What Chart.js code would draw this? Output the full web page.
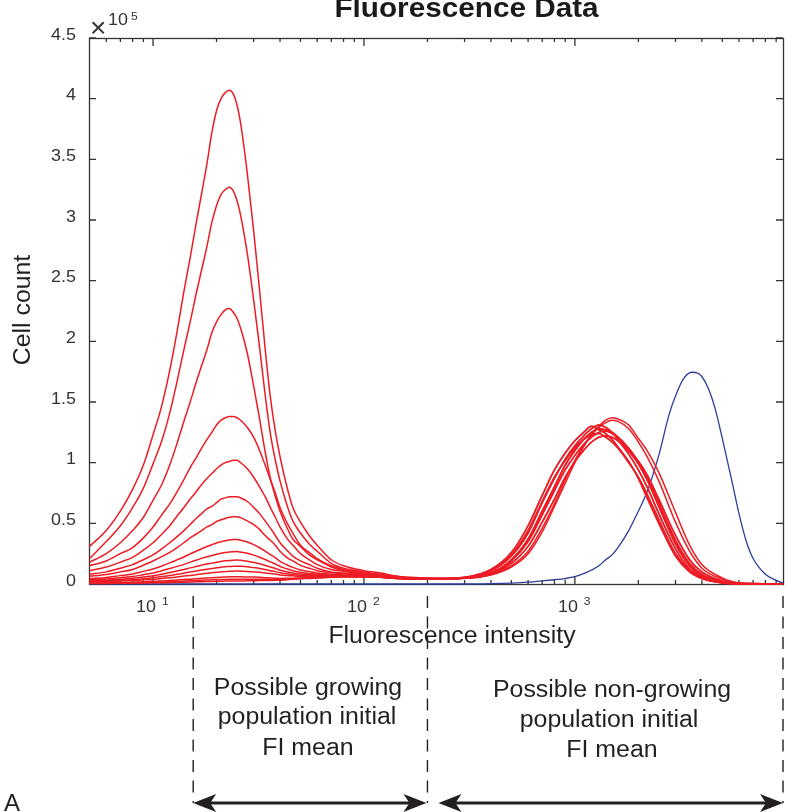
<!DOCTYPE html>
<html>
<head>
<meta charset="utf-8">
<title>Fluorescence Data</title>
<script src="https://cdn.jsdelivr.net/npm/chart.js@4.4.1/dist/chart.umd.min.js"></script>
<style>
  html, body { margin: 0; padding: 0; background: #fff; }
  #wrap { width: 792px; height: 812px; }
</style>
</head>
<body>
<div id="wrap"><canvas id="chart" width="792" height="812"></canvas></div>
<script>
// intensity bins: low part (growing peak) and high part (non-growing peak)
const fiLow = [5, 6, 7, 8, 9, 10, 11, 12, 13, 14, 15, 16, 17, 18, 19, 20, 21, 22, 23, 24,
  25, 26, 28, 30, 32, 34, 36, 38, 40, 43, 46, 50, 55, 60, 70, 80, 100, 120, 150, 200];
const fiHigh = [300, 400, 500, 600, 700, 800, 900, 1000, 1100, 1200, 1300, 1400, 1500, 1600,
  1800, 2000, 2200, 2500, 3000, 3500, 4000, 5000, 6000, 10000];

// cell counts (x10^5) of each red curve over fiLow
const growing01 = [0.31,0.44,0.60,0.78,0.98,1.23,1.47,1.76,2.08,2.41,2.69,2.97,3.22,3.46,3.72,3.90,4.00,4.05,4.07,4.04,3.95,3.80,3.38,2.91,2.42,1.94,1.54,1.26,1.05,0.81,0.63,0.51,0.40,0.32,0.20,0.15,0.11,0.09,0.06,0.05];
const growing02 = [0.21,0.35,0.48,0.63,0.79,0.99,1.18,1.41,1.67,1.93,2.16,2.39,2.59,2.78,2.98,3.12,3.21,3.25,3.27,3.24,3.16,3.04,2.72,2.34,1.95,1.56,1.24,1.02,0.85,0.66,0.52,0.42,0.33,0.27,0.17,0.13,0.10,0.08,0.06,0.05];
const growing03 = [0.18,0.25,0.34,0.44,0.55,0.69,0.82,0.98,1.16,1.34,1.50,1.66,1.80,1.93,2.07,2.16,2.22,2.26,2.27,2.24,2.19,2.11,1.90,1.63,1.36,1.09,0.87,0.72,0.60,0.47,0.37,0.31,0.24,0.20,0.14,0.11,0.09,0.07,0.05,0.04];
const growing04 = [0.15,0.19,0.25,0.30,0.38,0.47,0.57,0.66,0.76,0.86,0.96,1.04,1.12,1.19,1.25,1.31,1.35,1.37,1.38,1.38,1.37,1.35,1.29,1.21,1.10,0.98,0.86,0.75,0.63,0.51,0.42,0.32,0.26,0.21,0.15,0.12,0.09,0.07,0.05,0.04];
const growing05 = [0.11,0.14,0.18,0.22,0.28,0.34,0.41,0.48,0.56,0.63,0.70,0.76,0.82,0.87,0.91,0.95,0.98,1.00,1.01,1.02,1.02,1.00,0.95,0.88,0.80,0.72,0.63,0.55,0.47,0.38,0.32,0.25,0.20,0.16,0.12,0.105,0.08,0.065,0.05,0.042];
const growing06 = [0.08,0.10,0.13,0.16,0.20,0.24,0.29,0.34,0.39,0.44,0.49,0.54,0.58,0.62,0.64,0.67,0.70,0.71,0.72,0.72,0.72,0.71,0.68,0.63,0.58,0.52,0.46,0.40,0.34,0.28,0.23,0.19,0.16,0.13,0.10,0.09,0.074,0.062,0.049,0.04];
const growing07 = [0.063,0.079,0.10,0.12,0.155,0.19,0.225,0.26,0.30,0.34,0.38,0.41,0.44,0.47,0.49,0.515,0.53,0.54,0.55,0.555,0.555,0.547,0.52,0.49,0.45,0.40,0.36,0.32,0.27,0.22,0.19,0.154,0.13,0.11,0.092,0.084,0.071,0.06,0.048,0.041];
const growing08 = [0.044,0.054,0.069,0.082,0.104,0.124,0.149,0.174,0.199,0.223,0.248,0.27,0.291,0.309,0.324,0.338,0.349,0.357,0.363,0.366,0.367,0.361,0.346,0.324,0.299,0.271,0.242,0.217,0.187,0.159,0.137,0.116,0.102,0.091,0.08,0.075,0.067,0.058,0.047,0.041];
const growing09 = [0.034,0.041,0.052,0.061,0.077,0.091,0.109,0.127,0.145,0.162,0.18,0.196,0.211,0.224,0.235,0.245,0.253,0.259,0.264,0.266,0.267,0.263,0.253,0.238,0.221,0.202,0.182,0.165,0.144,0.125,0.11,0.096,0.087,0.08,0.074,0.071,0.065,0.057,0.046,0.04];
const growing10 = [0.027,0.032,0.04,0.047,0.058,0.068,0.081,0.094,0.107,0.12,0.133,0.144,0.155,0.165,0.172,0.18,0.186,0.191,0.194,0.196,0.197,0.195,0.188,0.178,0.167,0.153,0.14,0.128,0.114,0.101,0.091,0.082,0.077,0.073,0.069,0.068,0.063,0.057,0.046,0.04];
const growing11 = [0.022,0.026,0.031,0.036,0.044,0.052,0.061,0.07,0.08,0.089,0.099,0.107,0.115,0.122,0.128,0.134,0.138,0.142,0.144,0.146,0.147,0.146,0.142,0.135,0.128,0.119,0.11,0.102,0.093,0.084,0.077,0.072,0.069,0.067,0.066,0.065,0.062,0.056,0.046,0.04];
const growing12 = [0.018,0.02,0.025,0.028,0.034,0.038,0.045,0.052,0.058,0.065,0.071,0.077,0.083,0.088,0.092,0.096,0.1,0.102,0.105,0.106,0.107,0.106,0.104,0.101,0.096,0.091,0.086,0.082,0.075,0.07,0.067,0.064,0.063,0.063,0.063,0.064,0.062,0.056,0.045,0.04];
const growing13 = [0.008,0.01,0.012,0.015,0.018,0.021,0.025,0.029,0.033,0.037,0.04,0.044,0.047,0.05,0.052,0.054,0.056,0.058,0.059,0.06,0.06,0.059,0.058,0.057,0.055,0.052,0.05,0.048,0.046,0.047,0.048,0.05,0.052,0.054,0.058,0.06,0.06,0.055,0.045,0.04];
const growing14 = [0.006,0.007,0.009,0.01,0.012,0.015,0.017,0.019,0.022,0.024,0.026,0.029,0.031,0.033,0.035,0.036,0.037,0.038,0.039,0.04,0.04,0.039,0.04,0.04,0.039,0.039,0.038,0.038,0.038,0.04,0.043,0.046,0.049,0.051,0.057,0.059,0.06,0.055,0.045,0.04];
const growing15 = [0.0045,0.005,0.0065,0.007,0.008,0.01,0.011,0.012,0.014,0.015,0.016,0.018,0.019,0.02,0.021,0.022,0.022,0.024,0.024,0.025,0.025,0.025,0.026,0.027,0.028,0.028,0.029,0.03,0.031,0.035,0.039,0.043,0.046,0.05,0.056,0.059,0.06,0.055,0.045,0.04];

// non-growing peak shapes over fiHigh (x10^5)
const nonGrowA = [0.048,0.075,0.14,0.25,0.43,0.64,0.83,1.0,1.13,1.23,1.30,1.35,1.37,1.36,1.31,1.20,1.10,0.92,0.59,0.32,0.16,0.05,0.01,0];
const nonGrowB = [0.048,0.078,0.15,0.27,0.46,0.66,0.86,1.02,1.14,1.23,1.29,1.33,1.35,1.34,1.28,1.17,1.05,0.85,0.51,0.27,0.13,0.04,0.008,0];
const nonGrowC = [0.048,0.08,0.17,0.31,0.51,0.70,0.88,1.01,1.10,1.17,1.21,1.22,1.21,1.18,1.10,1.01,0.90,0.70,0.40,0.20,0.10,0.025,0.005,0];
const nonGrowD = [0.05,0.09,0.20,0.37,0.60,0.80,0.98,1.10,1.19,1.25,1.28,1.27,1.25,1.21,1.10,0.99,0.86,0.64,0.33,0.15,0.07,0.015,0.003,0];
const nonGrowE = [0.052,0.105,0.23,0.42,0.67,0.87,1.03,1.14,1.22,1.28,1.31,1.29,1.25,1.19,1.07,0.94,0.80,0.58,0.29,0.125,0.057,0.012,0.002,0];
const nonGrowF = [0.055,0.12,0.26,0.48,0.73,0.94,1.08,1.18,1.25,1.30,1.27,1.24,1.19,1.13,1.01,0.87,0.71,0.50,0.23,0.10,0.045,0.008,0.002,0];
const nonGrowG = [0.05,0.085,0.19,0.35,0.57,0.77,0.94,1.06,1.15,1.21,1.25,1.26,1.24,1.21,1.12,1.01,0.89,0.67,0.36,0.17,0.08,0.018,0.004,0];
const nonGrowH = [0.053,0.11,0.24,0.44,0.68,0.88,1.02,1.12,1.19,1.23,1.24,1.21,1.17,1.12,1.00,0.88,0.74,0.53,0.25,0.11,0.05,0.01,0.002,0];

// blue reference curve
const blueFI = [5, 300, 400, 500, 600, 700, 800, 900, 1000, 1100, 1200, 1300, 1400, 1500, 1600, 1800, 2000, 2200,
  2500, 2800, 3000, 3300, 3600, 3800, 4000, 4300, 4600, 5000, 5500, 6000, 6500, 7000, 8000, 9000, 10000];
const blueCount = [0, 0, 0.003, 0.008, 0.015, 0.025, 0.035, 0.045, 0.06, 0.085, 0.115, 0.15, 0.2, 0.24, 0.30, 0.44, 0.60, 0.76,
  1.06, 1.40, 1.55, 1.70, 1.745, 1.74, 1.71, 1.61, 1.46, 1.20, 0.88, 0.58, 0.35, 0.21, 0.08, 0.03, 0];

// axes
const yTicks = [0, 0.5, 1, 1.5, 2, 2.5, 3, 3.5, 4, 4.5];
const yTickLabels = ['0', '0.5', '1', '1.5', '2', '2.5', '3', '3.5', '4', '4.5'];
const xMajor = [10, 100, 1000];
const xMajorExp = ['1', '2', '3'];
const xMinor = [6, 7, 8, 9, 20, 30, 40, 50, 60, 70, 80, 90, 200, 300, 400, 500, 600, 700, 800, 900,
  2000, 3000, 4000, 5000, 6000, 7000, 8000, 9000];

// bracket edges under the axis (fluorescence values)
const regionEdges = [15.5, 200];

const redCurves = [
  [growing01, nonGrowA], [growing02, nonGrowB], [growing03, nonGrowC], [growing04, nonGrowD],
  [growing05, nonGrowE], [growing06, nonGrowF], [growing07, nonGrowG], [growing08, nonGrowH],
  [growing09, nonGrowD], [growing10, nonGrowE], [growing11, nonGrowC], [growing12, nonGrowF],
  [growing13, nonGrowG], [growing14, nonGrowH], [growing15, nonGrowD]
];

const FONT = "'Liberation Sans', Arial, Helvetica, sans-serif";
const RED = '#ed1c24';
const BLUE = '#2e3d98';

const fiAll = fiLow.concat(fiHigh);
const datasets = redCurves.map(([low, high]) => {
  const counts = low.concat(high);
  return {
    data: fiAll.map((x, i) => ({ x: x, y: counts[i] })),
    borderColor: RED,
    borderWidth: 1.5,
    order: 1,
    clip: { left: 1, right: 0, top: 5, bottom: 2 }
  };
});
datasets.push({
  data: blueFI.map((x, i) => ({ x: x, y: blueCount[i] })),
  borderColor: BLUE,
  borderWidth: 1.3,
  order: 2,
  clip: { left: 1, right: 0, top: 5, bottom: 2 }
});

function text(ctx, s, x, y, font, align, sx, color) {
  ctx.save();
  ctx.font = font;
  ctx.fillStyle = color;
  ctx.textAlign = align;
  ctx.textBaseline = 'alphabetic';
  ctx.translate(x, y);
  ctx.scale(sx, 1);
  ctx.fillText(s, 0, 0);
  ctx.restore();
}

function arrowHead(ctx, tip, y, dir) {
  const L = 23, W = 9, N = 6;
  ctx.beginPath();
  ctx.moveTo(tip, y);
  ctx.lineTo(tip - dir * L, y - W);
  ctx.lineTo(tip - dir * (L - N), y);
  ctx.lineTo(tip - dir * L, y + W);
  ctx.closePath();
  ctx.fill();
}

function doubleArrow(ctx, x1, x2, y) {
  ctx.beginPath();
  ctx.moveTo(x1 + 15, y);
  ctx.lineTo(x2 - 15, y);
  ctx.stroke();
  arrowHead(ctx, x1, y, -1);
  arrowHead(ctx, x2, y, 1);
}

const figurePlugin = {
  id: 'figure',
  beforeDatasetsDraw(chart) {
    const { ctx, chartArea: a, scales: { x, y } } = chart;
    ctx.save();
    ctx.strokeStyle = '#333';
    ctx.lineWidth = 1.3;
    ctx.strokeRect(a.left + 0.5, a.top + 0.5, a.right - a.left, a.bottom - a.top);
    ctx.beginPath();
    yTicks.forEach(v => {
      const py = y.getPixelForValue(v);
      ctx.moveTo(a.left, py); ctx.lineTo(a.left + 7, py);
      ctx.moveTo(a.right, py); ctx.lineTo(a.right - 7, py);
    });
    xMajor.forEach(v => {
      const px = x.getPixelForValue(v);
      ctx.moveTo(px, a.bottom); ctx.lineTo(px, a.bottom - 8);
      ctx.moveTo(px, a.top); ctx.lineTo(px, a.top + 8);
    });
    xMinor.forEach(v => {
      const px = x.getPixelForValue(v);
      ctx.moveTo(px, a.bottom); ctx.lineTo(px, a.bottom - 4);
      ctx.moveTo(px, a.top); ctx.lineTo(px, a.top + 4);
    });
    ctx.stroke();
    ctx.restore();
  },
  afterDraw(chart) {
    const { ctx, chartArea: a, scales: { x, y } } = chart;
    const tickCol = '#333';
    const ink = '#231f20';

    // y tick labels
    yTicks.forEach((v, i) => {
      text(ctx, yTickLabels[i], 76, y.getPixelForValue(v) + 1.5, '16px ' + FONT, 'right', 1.12, tickCol);
    });
    // exponent marker
    text(ctx, '\u00d7', 90, 37, '28px ' + FONT, 'left', 1, tickCol);
    text(ctx, '10', 108, 25, '16px ' + FONT, 'left', 1.12, tickCol);
    text(ctx, '5', 131, 20, '11px ' + FONT, 'left', 1.1, tickCol);

    // x tick labels 10^n
    xMajor.forEach((v, i) => {
      const px = x.getPixelForValue(v);
      text(ctx, '10', px + 3, 612, '16px ' + FONT, 'right', 1.12, tickCol);
      text(ctx, xMajorExp[i], px + 9, 605, '11px ' + FONT, 'left', 1.1, tickCol);
    });

    // title and axis titles
    text(ctx, 'Fluorescence Data', 466.5, 17, 'bold 27px ' + FONT, 'center', 1.1, '#1a1a1a');
    text(ctx, 'Fluorescence intensity', 452, 643, '23px ' + FONT, 'center', 1.08, ink);
    ctx.save();
    ctx.translate(30, 310);
    ctx.rotate(-Math.PI / 2);
    text(ctx, 'Cell count', 0, 0, '23px ' + FONT, 'center', 1.08, ink);
    ctx.restore();

    // dashed region edges
    const e1 = x.getPixelForValue(regionEdges[0]);
    const e2 = x.getPixelForValue(regionEdges[1]);
    const e3 = a.right;
    ctx.save();
    ctx.strokeStyle = ink;
    ctx.lineWidth = 1.4;
    ctx.setLineDash([12, 8.5]);
    ctx.beginPath();
    [e1, e2, e3].forEach(px => { ctx.moveTo(px, 596); ctx.lineTo(px, 803); });
    ctx.stroke();
    ctx.restore();

    // arrows
    ctx.save();
    ctx.strokeStyle = ink;
    ctx.fillStyle = ink;
    ctx.lineWidth = 3;
    doubleArrow(ctx, e1, e2 - 1, 803);
    doubleArrow(ctx, e2 + 11, e3, 803);
    ctx.restore();

    // region notes
    const noteFont = '23.5px ' + FONT;
    text(ctx, 'Possible growing', 308, 695, noteFont, 'center', 1.06, ink);
    text(ctx, 'population initial', 307, 724, noteFont, 'center', 1.06, ink);
    text(ctx, 'FI mean', 308, 755, noteFont, 'center', 1.06, ink);
    text(ctx, 'Possible non-growing', 612, 697, noteFont, 'center', 1.06, ink);
    text(ctx, 'population initial', 609, 727, noteFont, 'center', 1.06, ink);
    text(ctx, 'FI mean', 612, 757, noteFont, 'center', 1.06, ink);

    // panel letter
    text(ctx, 'A', 4, 811, '24px ' + FONT, 'left', 1, ink);
  }
};

new Chart(document.getElementById('chart').getContext('2d'), {
  type: 'line',
  data: { datasets: datasets },
  options: {
    responsive: false,
    animation: false,
    devicePixelRatio: 1,
    layout: { padding: { left: 89, right: 9, top: 38, bottom: 228 } },
    elements: {
      point: { radius: 0 },
      line: { cubicInterpolationMode: 'monotone', fill: false }
    },
    scales: {
      x: { type: 'logarithmic', min: 4.97, max: 9700, display: false },
      y: { type: 'linear', min: 0, max: 4.5, display: false }
    },
    plugins: {
      legend: { display: false },
      tooltip: { enabled: false },
      title: { display: false }
    }
  },
  plugins: [figurePlugin]
});
</script>
</body>
</html>
